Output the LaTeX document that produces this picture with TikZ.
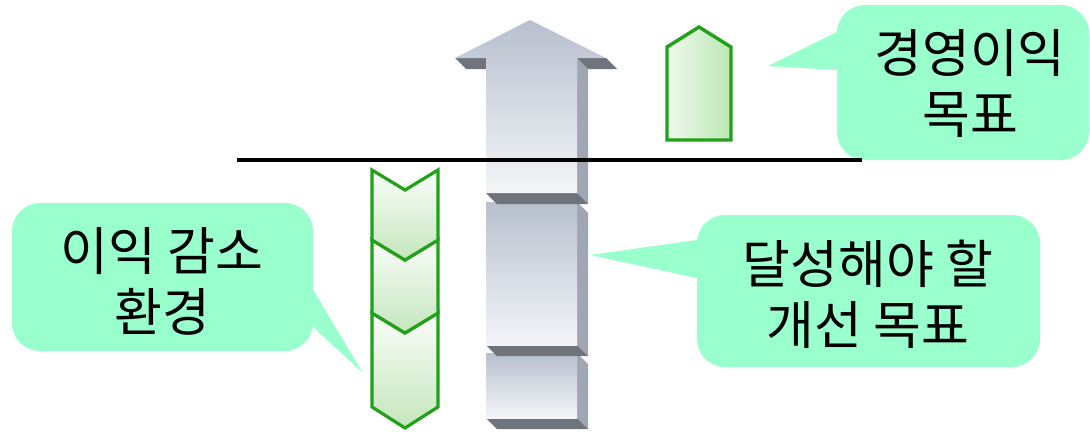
\documentclass[tikz,border=0pt]{standalone}
\usepackage{fontspec}
\newfontfamily\kr{Noto Sans CJK KR}
\usetikzlibrary{calc}

\definecolor{mint}{HTML}{99FFCC}
\definecolor{leafline}{HTML}{22A01A}
\definecolor{leaflight}{HTML}{FAFDF9}
\definecolor{leafdark}{HTML}{C4E6BD}
\definecolor{steeltop}{HTML}{B8C0CE}
\definecolor{steelbot}{HTML}{F4F5F8}
\definecolor{steelside}{HTML}{A0A6B2}
\definecolor{steelshadow}{HTML}{6E737C}

\tikzset{
  bubble/.style={fill=mint, draw=none, rounded corners=28pt, inner sep=0pt},
  pointer/.style={fill=mint, draw=none},
  bubbletext/.style={font=\kr\fontsize{52}{61}\selectfont, align=center, text=black, inner sep=0pt},
  chevronseg/.style={draw=leafline, line width=3.2pt, line join=miter, top color=leaflight, bottom color=leafdark},
  goalmark/.style={draw=leafline, line width=3.4pt, line join=miter, left color=leaflight!80!leafdark, right color=leafdark!95!green},
  blockfront/.style={top color=steeltop, bottom color=steelbot, draw=none},
  blockside/.style={fill=steelside, draw=none},
  blockshadow/.style={fill=steelshadow, draw=none},
  baseline rule/.style={draw=black, line width=3.6pt},
}

\begin{document}
\begin{tikzpicture}[x=1pt, y=-1pt]
  \useasboundingbox (0,0) rectangle (1090,432);

  % ---- stacked improvement arrow (bottom block first) ----
  % bottom block
  \path[blockside]   (577,353) -- (588,364) -- (588,429) -- (577,418) -- cycle;
  \path[blockshadow] (486,418) -- (577,418) -- (588,429) -- (497,429) -- cycle;
  \shade[blockfront] (486,353) rectangle (577,418);
  % middle block
  \path[blockside]   (577,202) -- (588,213) -- (588,356) -- (577,345) -- cycle;
  \path[blockshadow] (486,345) -- (577,345) -- (588,356) -- (497,356) -- cycle;
  \shade[blockfront] (486,202) rectangle (577,345);
  % arrow head block
  \path[blockside]   (577,58) -- (588,69) -- (588,204) -- (577,193) -- cycle;
  \path[blockshadow] (486,193) -- (577,193) -- (588,204) -- (497,204) -- cycle;
  \path[blockshadow] (455,58) -- (486,58) -- (486,69) -- (466,69) -- cycle;
  \path[blockshadow] (577,58) -- (606,58) -- (617,69) -- (588,69) -- cycle;
  \shade[blockfront] (530,20) -- (606,58) -- (577,58) -- (577,193)
                     -- (486,193) -- (486,58) -- (455,58) -- cycle;

  % ---- falling chevrons ----
  \shade[chevronseg] (372,313) -- (405,333) -- (438,313) -- (438,407) -- (405,428) -- (372,407) -- cycle;
  \shade[chevronseg] (372,240) -- (405,260) -- (438,240) -- (438,313) -- (405,333) -- (372,313) -- cycle;
  \shade[chevronseg] (372,170) -- (405,190) -- (438,170) -- (438,240) -- (405,260) -- (372,240) -- cycle;

  % ---- target marker ----
  \shade[goalmark] (667,47) -- (699,27) -- (731,47) -- (731,140) -- (667,140) -- cycle;

  % ---- callouts ----
  \coordinate (tipGoal) at (768,66);
  \coordinate (tipImprove) at (590,255);
  \coordinate (tipDrop) at (363,373);

  \node[bubble, minimum width=252pt, minimum height=155pt] (goal) at (963,82.5) {};
  \path[pointer] (tipGoal) -- ($(tipGoal)!1.25!(goal.west |- 0,32)$)
                 -- ($(tipGoal)!1.25!(goal.west |- 0,70)$) -- cycle;
  \node[bubbletext] (goaltext) at (970,84) {경영이익\\목표};

  \node[bubble, minimum width=343pt, minimum height=152pt] (improve) at (868.5,291) {};
  \path[pointer] (tipImprove) -- ($(tipImprove)!1.15!(improve.west |- 0,240)$)
                 -- ($(tipImprove)!1.15!(improve.west |- 0,278)$) -- cycle;
  \node[bubbletext] (improvetext) at (868,294) {달성해야 할\\개선 목표};

  \node[bubble, minimum width=301pt, minimum height=148pt] (drop) at (162.5,277) {};
  \path[pointer] (tipDrop) -- ($(tipDrop)!1.3!(drop.east |- 0,290)$)
                 -- ($(tipDrop)!1.3!(drop.east |- 0,327)$) -- cycle;
  \node[bubbletext] (droptext) at (162,281) {이익 감소\\환경};

  % ---- level line ----
  \coordinate (lineL) at (237,160);
  \coordinate (lineR) at (862,160);
  \draw[baseline rule] (lineL) -- (lineR);
\end{tikzpicture}
\end{document}
